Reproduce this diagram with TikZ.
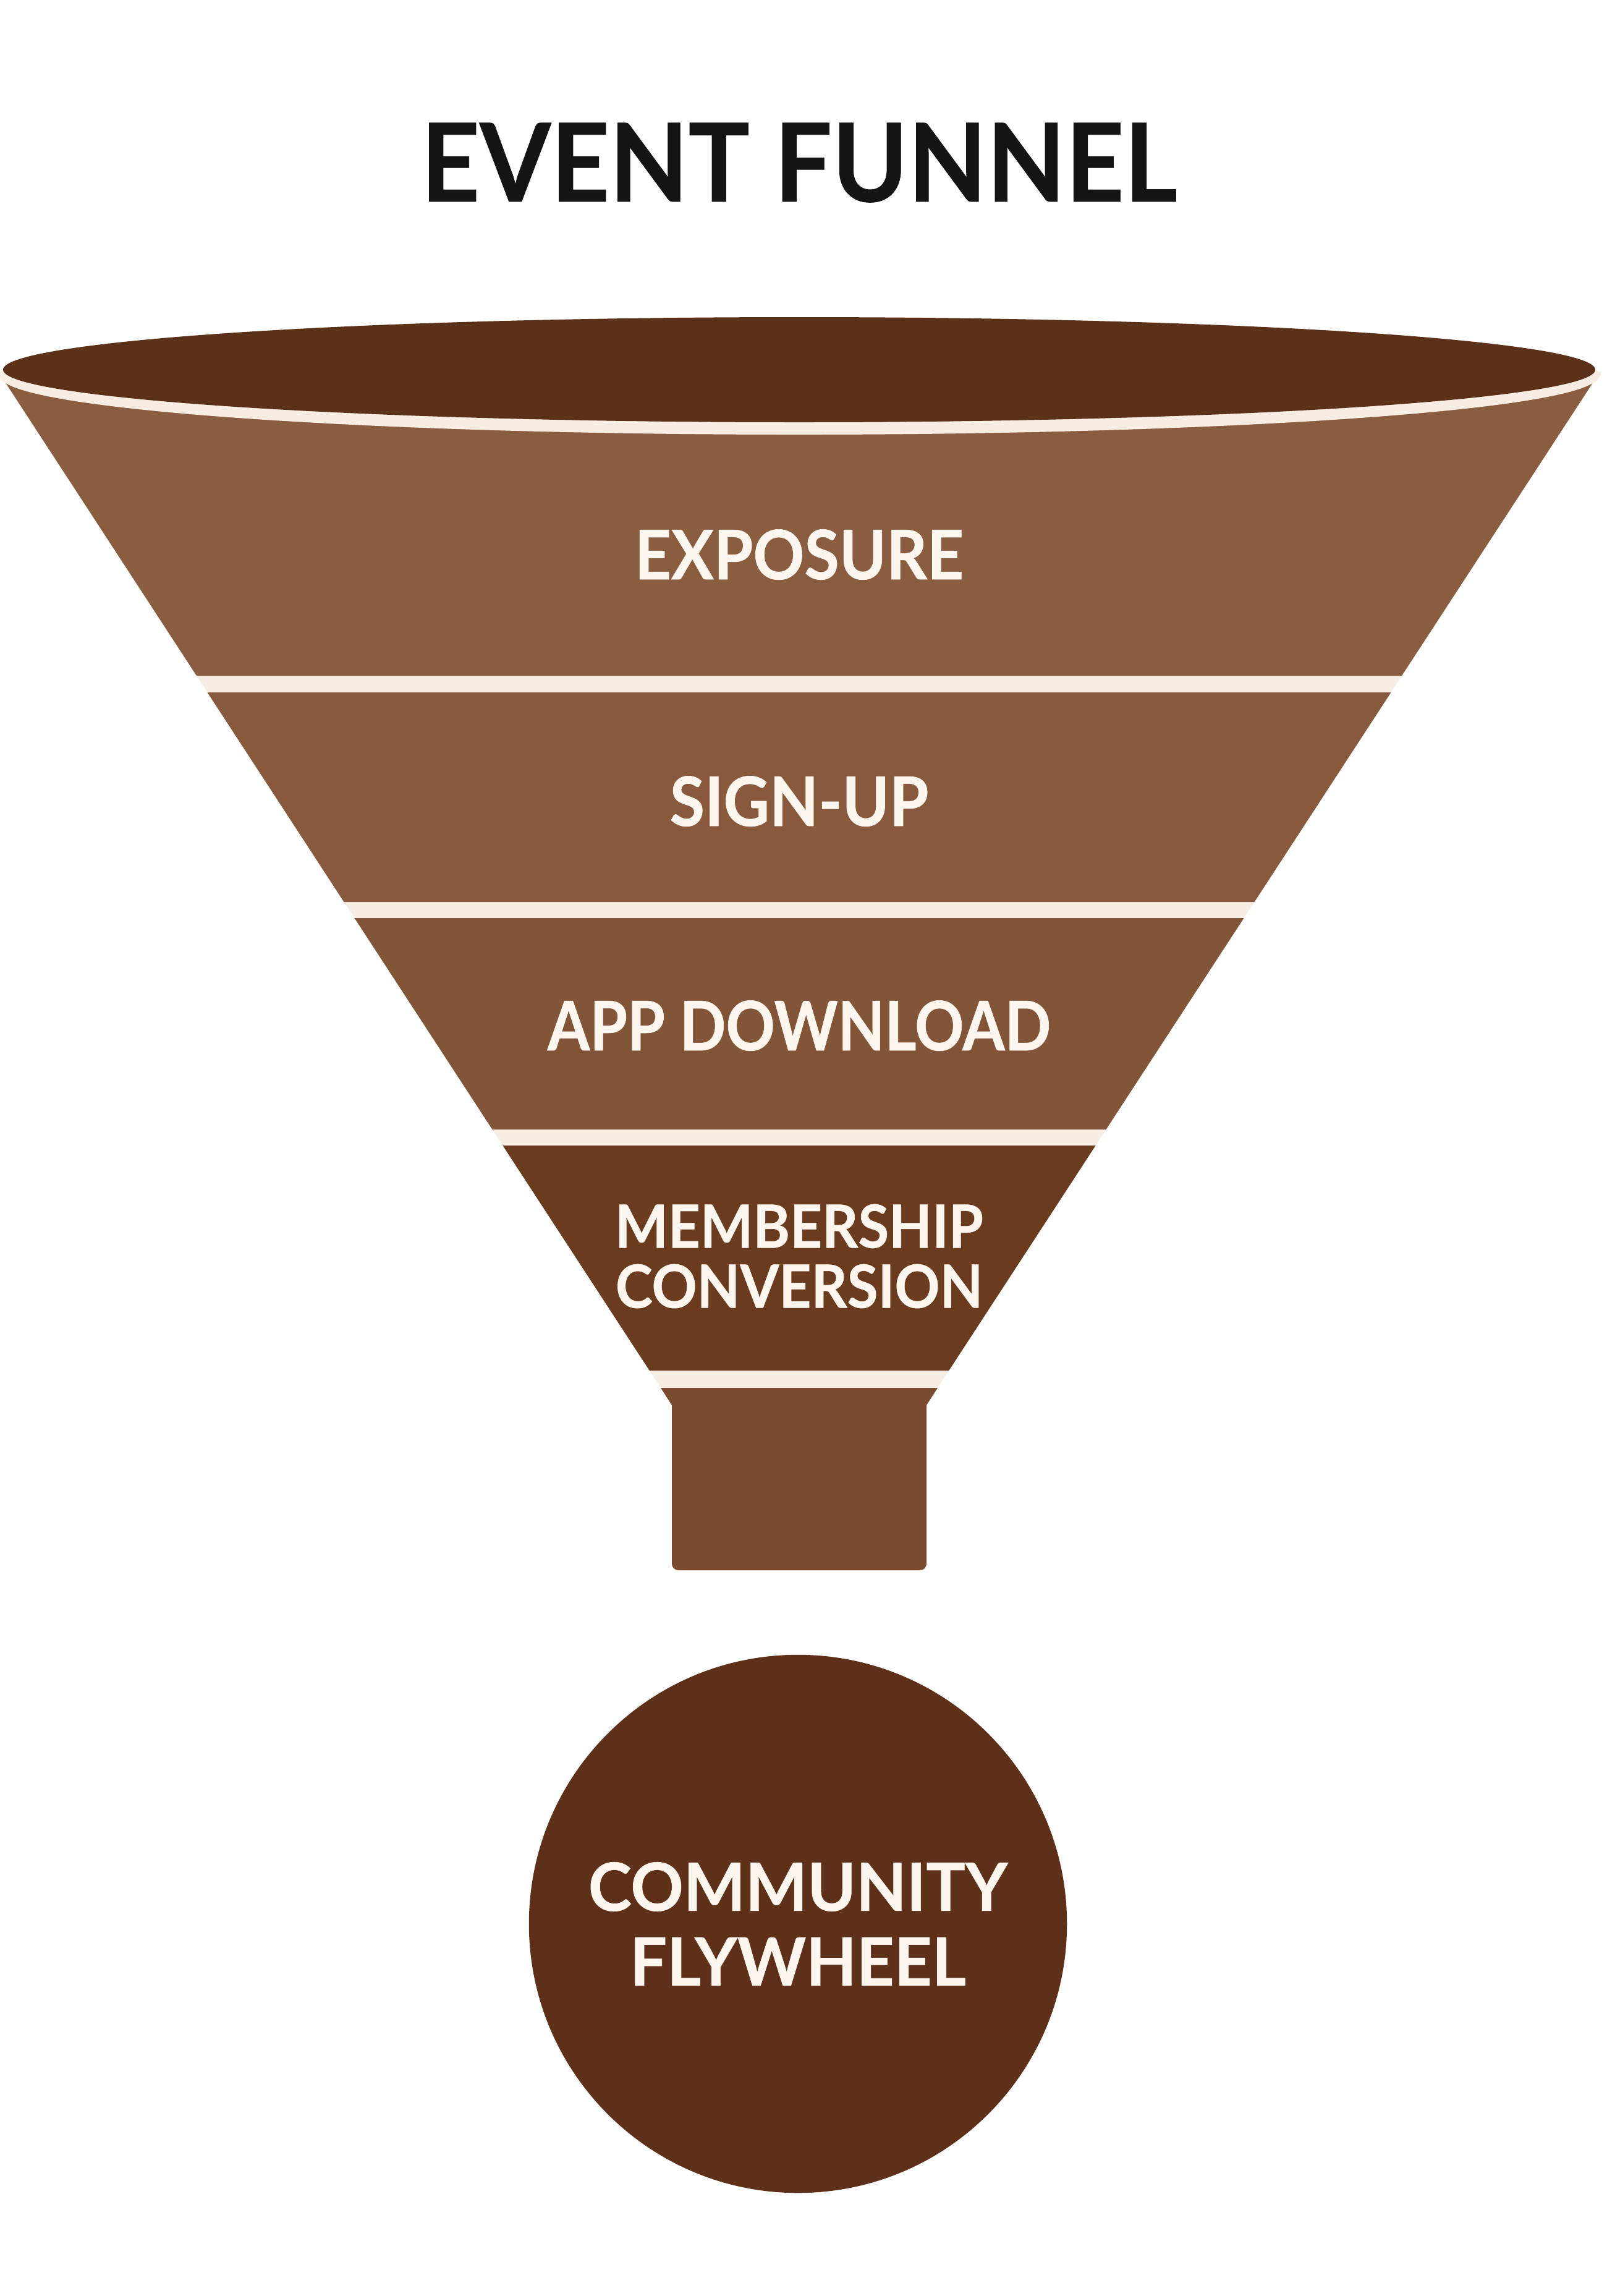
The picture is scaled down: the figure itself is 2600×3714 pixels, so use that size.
\documentclass[tikz,border=0pt]{standalone}
\usepackage{fontspec}
\setmainfont{Lato}
\usepackage{tikz}
\usepackage{xcolor}
\definecolor{rimdark}{RGB}{92,49,25}
\definecolor{creamrim}{RGB}{247,237,226}
\definecolor{stageone}{RGB}{139,93,64}
\definecolor{stagetwo}{RGB}{136,89,61}
\definecolor{stagethree}{RGB}{131,85,56}
\definecolor{stagefour}{RGB}{106,59,31}
\definecolor{neckbrown}{RGB}{122,75,46}
\definecolor{wheelbrown}{RGB}{94,48,25}
\definecolor{labelcream}{RGB}{252,246,238}

\tikzset{
  stagelabel/.style={text=labelcream, font=\bfseries\fontsize{31.4}{34}\selectfont\addfontfeatures{FakeStretch=0.93,FakeBold=0.6}, inner sep=0pt, anchor=base},
}

\begin{document}
\begin{tikzpicture}[x=0.01cm, y=-0.01cm]
    \useasboundingbox (0,0) rectangle (2600,3714);

    \node[font=\bfseries\fontsize{50}{52}\selectfont\addfontfeatures{FakeStretch=0.94,FakeBold=0.5}, text=black!92, inner sep=0pt, anchor=base] (title) at (1293,326) {EVENT FUNNEL};

    \fill[creamrim] (3,610) -- (1069,2245) -- (1517,2245) -- (2583,610) -- cycle;
    \fill[stageone] (3,610) -- (318,1093) -- (2268,1093) -- (2583,610) -- cycle;
    \fill[stagetwo] (335.5,1120) -- (556.5,1459) -- (2029.5,1459) -- (2250.5,1120) -- cycle;
    \fill[stagethree] (573.5,1485) -- (796.5,1827) -- (1789.5,1827) -- (2012.5,1485) -- cycle;
    \fill[stagefour] (813.4,1853) -- (1050.8,2217) -- (1535.2,2217) -- (1772.6,1853) -- cycle;
    \fill[neckbrown] (1069,2245) -- (1087,2273) [rounded corners=3pt] -- (1087,2540) -- (1499,2540) [sharp corners] -- (1499,2273) -- (1517,2245) -- cycle;

    \draw[creamrim, line width=5.7pt] (5,600) arc[start angle=180, end angle=0, x radius=1288, y radius=93];
    \fill[rimdark] (1293,598) ellipse [x radius=1288, y radius=85];

    \node[stagelabel] (exposure) at (1293,937) {EXPOSURE};
    \node[stagelabel] (signup) at (1293,1336) {SIGN-UP};
    \node[stagelabel, font=\bfseries\fontsize{31.4}{34}\selectfont\addfontfeatures{FakeStretch=0.89,FakeBold=0.6}] (appdownload) at (1293,1699) {APP DOWNLOAD};
    \node[stagelabel, anchor=center, align=center, font=\bfseries\fontsize{27.4}{27.6}\selectfont\addfontfeatures{FakeStretch=0.94,FakeBold=0.6}] (membership) at (1293,2032) {MEMBERSHIP\\CONVERSION};

    \node[circle, fill=wheelbrown, minimum size=8.7cm, inner sep=0pt, text=labelcream, align=center, font=\bfseries\fontsize{30.6}{34.4}\selectfont\addfontfeatures{FakeStretch=0.985,FakeBold=0.6}] (flywheel) at (1291,3112) {COMMUNITY\\FLYWHEEL};
\end{tikzpicture}
\end{document}
